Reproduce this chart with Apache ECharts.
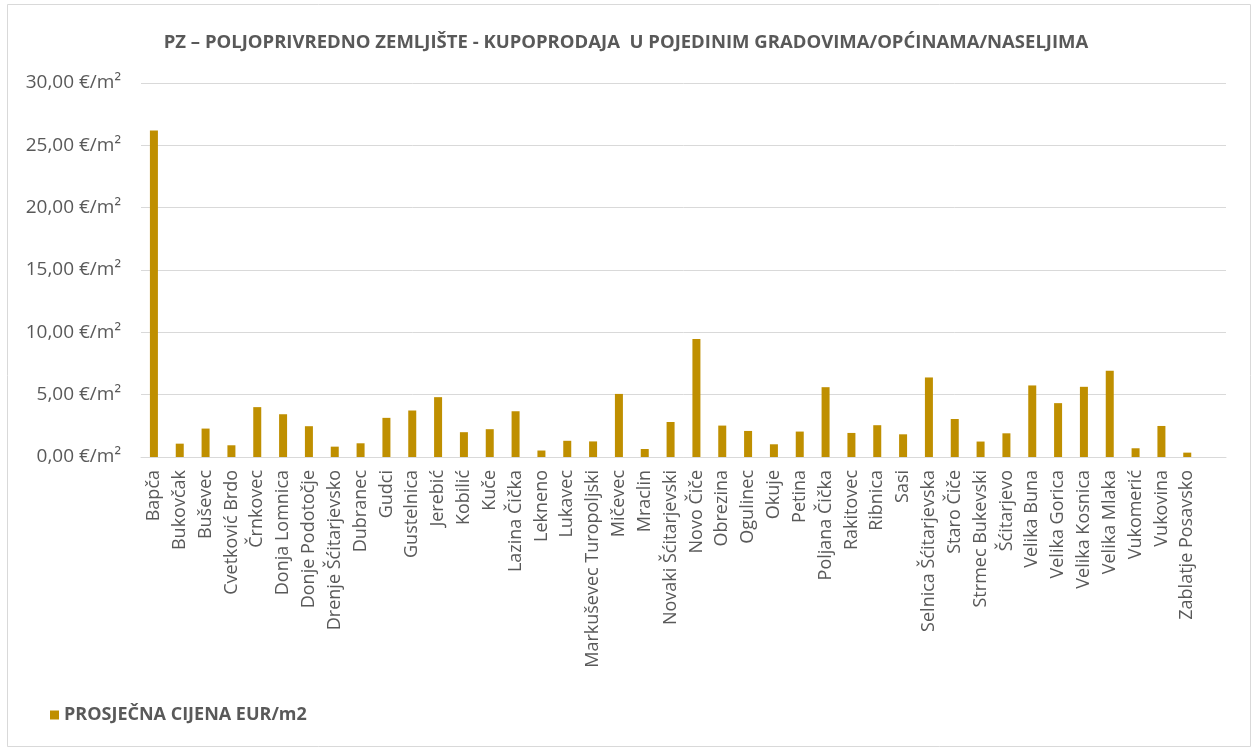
<!DOCTYPE html>
<html>
<head>
<meta charset="utf-8">
<title>PZ - kupoprodaja</title>
<style>
html, body { margin: 0; padding: 0; background: #fff; }
#chart { width: 1252px; height: 747px; }
</style>
</head>
<body>
<div id="chart"></div>
<script src="https://cdn.jsdelivr.net/npm/echarts@6/dist/echarts.min.js"></script>
<script>
// naselja (zadnja prazna kategorija ostavlja prazan prostor kao u originalu)
var naselja = ['Bapča', 'Bukovčak', 'Buševec', 'Cvetković Brdo', 'Črnkovec', 'Donja Lomnica',
  'Donje Podotočje', 'Drenje Šćitarjevsko', 'Dubranec', 'Gudci', 'Gustelnica', 'Jerebić',
  'Kobilić', 'Kuče', 'Lazina Čička', 'Lekneno', 'Lukavec', 'Markuševec Turopoljski',
  'Mičevec', 'Mraclin', 'Novaki Šćitarjevski', 'Novo Čiče', 'Obrezina', 'Ogulinec',
  'Okuje', 'Petina', 'Poljana Čička', 'Rakitovec', 'Ribnica', 'Sasi',
  'Selnica Šćitarjevska', 'Staro Čiče', 'Strmec Bukevski', 'Šćitarjevo', 'Velika Buna',
  'Velika Gorica', 'Velika Kosnica', 'Velika Mlaka', 'Vukomerić', 'Vukovina',
  'Zablatje Posavsko', ''];

// prosječna cijena EUR/m2
var cijene = [26.18, 1.07, 2.28, 0.94, 4.00, 3.43,
  2.47, 0.83, 1.10, 3.14, 3.73, 4.80,
  1.99, 2.23, 3.67, 0.52, 1.30, 1.25,
  5.06, 0.64, 2.81, 9.46, 2.52, 2.09,
  1.02, 2.04, 5.60, 1.93, 2.55, 1.82,
  6.38, 3.05, 1.24, 1.90, 5.74,
  4.32, 5.63, 6.91, 0.70, 2.49,
  0.35, null];

var yTicks = [0, 5, 10, 15, 20, 25, 30];

var myChart = echarts.init(document.getElementById('chart'));
myChart.setOption({
  animation: false,
  backgroundColor: '#fff',
  graphic: [{
    type: 'rect',
    shape: { x: 7.5, y: 4.5, width: 1243, height: 742 },
    style: { fill: 'none', stroke: '#d9d9d9', lineWidth: 1 },
    silent: true
  }],
  title: {
    text: 'PZ – POLJOPRIVREDNO ZEMLJIŠTE - KUPOPRODAJA  U POJEDINIM GRADOVIMA/OPĆINAMA/NASELJIMA',
    left: 'center',
    top: 28,
    textStyle: {
      fontFamily: 'Open Sans',
      fontWeight: 'bold',
      fontSize: 18.5,
      color: '#595959'
    }
  },
  legend: {
    left: 45,
    top: 701,
    itemWidth: 9,
    itemHeight: 9,
    itemGap: 5,
    icon: 'rect',
    data: ['PROSJEČNA CIJENA EUR/m2'],
    textStyle: {
      fontFamily: 'Open Sans',
      fontWeight: 'bold',
      fontSize: 18,
      color: '#595959'
    }
  },
  grid: {
    left: 141,
    right: 26,
    top: 83,
    bottom: 290,
    containLabel: false
  },
  xAxis: {
    type: 'category',
    data: naselja,
    axisTick: { show: false },
    axisLine: { lineStyle: { color: '#d9d9d9', width: 1 } },
    axisLabel: {
      rotate: 90,
      interval: 0,
      margin: 13,
      fontFamily: 'Open Sans',
      fontSize: 18,
      color: '#595959'
    }
  },
  yAxis: {
    type: 'value',
    min: yTicks[0],
    max: yTicks[yTicks.length - 1],
    interval: 5,
    axisLine: { show: false },
    axisTick: { show: false },
    splitLine: { lineStyle: { color: '#d9d9d9', width: 1 } },
    axisLabel: {
      margin: 20,
      fontFamily: 'Open Sans',
      fontSize: 19,
      color: '#595959',
      formatter: function (v) {
        return v.toFixed(2).replace('.', ',') + ' €/m²';
      }
    }
  },
  series: [{
    name: 'PROSJEČNA CIJENA EUR/m2',
    type: 'bar',
    data: cijene,
    barWidth: 8,
    itemStyle: { color: '#bf8f00' }
  }]
});
</script>
</body>
</html>
